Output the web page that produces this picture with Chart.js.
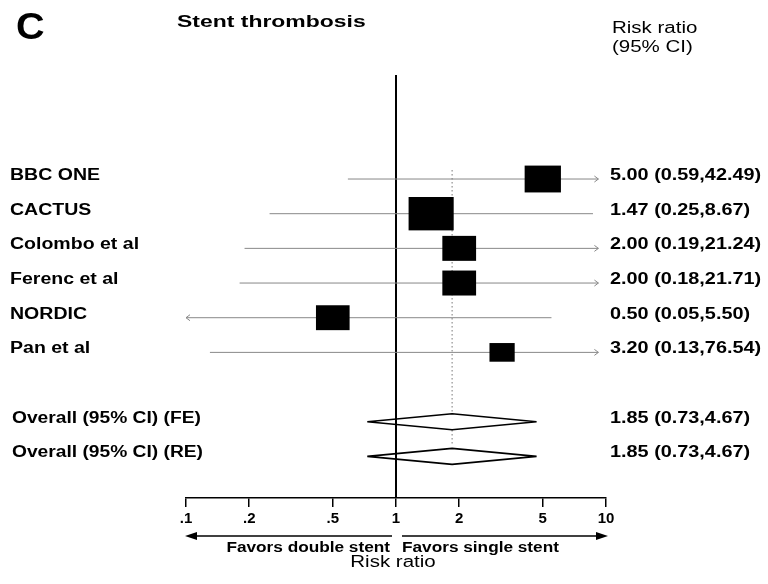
<!DOCTYPE html>
<html>
<head>
<meta charset="utf-8">
<title>Stent thrombosis forest plot</title>
<script src="https://cdn.jsdelivr.net/npm/chart.js@4.4.1/dist/chart.umd.min.js"></script>
<style>
  html, body { margin: 0; padding: 0; background: #fff; }
  #wrap { width: 768px; height: 584px; position: relative; }
</style>
</head>
<body>
<div id="wrap"><canvas id="forest"></canvas></div>
<script>
// Data -----------------------------------------------------------------
var studies = ["BBC ONE", "CACTUS", "Colombo et al", "Ferenc et al", "NORDIC", "Pan et al"];
var rr      = [5.00, 1.47, 2.00, 2.00, 0.50, 3.20];
var lo      = [0.59, 0.25, 0.19, 0.18, 0.05, 0.13];
var hi      = [42.49, 8.67, 21.24, 21.71, 5.50, 76.54];
var weights = [17.8, 27.5, 15.4, 15.4, 15.3, 8.6];   // % weight (box area)

var pooledLabels = ["Overall (95% CI) (FE)", "Overall (95% CI) (RE)"];
var pooledRR = [1.85, 1.85];
var pooledLo = [0.73, 0.73];
var pooledHi = [4.67, 4.67];

var tickValues = [0.1, 0.2, 0.5, 1, 2, 5, 10];
var tickLabels = [".1", ".2", ".5", "1", "2", "5", "10"];

(function () {
  var FONT = "'Liberation Sans', Arial, Helvetica, sans-serif";
  var CLIP_HI = 9.2, CLIP_LO = 0.1;

  // rows: studies on 1..n, pooled estimates after a blank row
  var studyRows = studies.map(function (s, i) { return i + 1; });
  var pooledRows = pooledLabels.map(function (s, i) { return studies.length + 2 + i; });

  function txt(ctx, s, x, y, font, align, sx) {
    ctx.save();
    ctx.font = font;
    ctx.fillStyle = "#000";
    ctx.textAlign = align || "left";
    ctx.textBaseline = "alphabetic";
    ctx.translate(x, y);
    ctx.scale(sx || 1, 1);
    ctx.fillText(s, 0, 0);
    ctx.restore();
  }
  function fmt(a, b, c) { return a.toFixed(2) + " (" + b.toFixed(2) + "," + c.toFixed(2) + ")"; }

  var forestPlugin = {
    id: "forest",
    afterDatasetsDraw: function (chart) {
      var ctx = chart.ctx, xs = chart.scales.x, ys = chart.scales.y, ca = chart.chartArea;
      var X = function (v) { return xs.getPixelForValue(v); };
      var Y = function (v) { return ys.getPixelForValue(v); };

      // null line at RR = 1
      ctx.save();
      ctx.strokeStyle = "#000"; ctx.lineWidth = 2;
      ctx.beginPath(); ctx.moveTo(X(1), ca.top); ctx.lineTo(X(1), ca.bottom); ctx.stroke();

      // dotted line at pooled estimate
      ctx.strokeStyle = "#333"; ctx.lineWidth = 1; ctx.setLineDash([1, 3]);
      ctx.beginPath();
      ctx.moveTo(X(pooledRR[0]), Y(studyRows[0] - 0.25));
      ctx.lineTo(X(pooledRR[0]), Y(pooledRows[pooledRows.length - 1] - 0.3));
      ctx.stroke();
      ctx.setLineDash([]);
      ctx.restore();

      // study CIs and boxes
      studies.forEach(function (name, i) {
        var y = Y(studyRows[i]);
        var a = Math.max(lo[i], CLIP_LO), b = Math.min(hi[i], CLIP_HI);
        var xa = X(a), xb = X(b);
        ctx.save();
        ctx.strokeStyle = "#888"; ctx.lineWidth = 1;
        ctx.beginPath(); ctx.moveTo(xa, y); ctx.lineTo(xb, y); ctx.stroke();
        if (hi[i] > CLIP_HI) {
          ctx.beginPath(); ctx.moveTo(xb - 4, y - 3); ctx.lineTo(xb, y); ctx.lineTo(xb - 4, y + 3); ctx.stroke();
        }
        if (lo[i] < CLIP_LO) {
          ctx.beginPath(); ctx.moveTo(xa + 4, y - 3); ctx.lineTo(xa, y); ctx.lineTo(xa + 4, y + 3); ctx.stroke();
        }
        var w = 8.6 * Math.sqrt(weights[i]), h = w * 0.74;
        ctx.fillStyle = "#000";
        ctx.fillRect(X(rr[i]) - w / 2, y - h / 2, w, h);
        ctx.restore();

        txt(ctx, name, 10, y + 1, "bold 16px " + FONT, "left", 1.22);
        txt(ctx, fmt(rr[i], lo[i], hi[i]), 610, y + 1, "bold 16px " + FONT, "left", 1.24);
      });

      // pooled diamonds
      pooledLabels.forEach(function (name, i) {
        var y = Y(pooledRows[i]);
        ctx.save();
        ctx.strokeStyle = "#000"; ctx.lineWidth = 1.6; ctx.fillStyle = "#fff";
        ctx.beginPath();
        ctx.moveTo(X(pooledLo[i]), y);
        ctx.lineTo(X(pooledRR[i]), y - 8);
        ctx.lineTo(X(pooledHi[i]), y);
        ctx.lineTo(X(pooledRR[i]), y + 8);
        ctx.closePath(); ctx.fill(); ctx.stroke();
        ctx.restore();
        // keep the null line over the diamond
        ctx.save();
        ctx.strokeStyle = "#000"; ctx.lineWidth = 2;
        ctx.beginPath(); ctx.moveTo(X(1), y - 9); ctx.lineTo(X(1), y + 9); ctx.stroke();
        ctx.restore();

        txt(ctx, name, 12, y + 1, "bold 16px " + FONT, "left", 1.2);
        txt(ctx, fmt(pooledRR[i], pooledLo[i], pooledHi[i]), 610, y + 1, "bold 16px " + FONT, "left", 1.24);
      });

      // headings
      txt(ctx, "C", 16, 39, "bold 36px " + FONT, "left", 1.1);
      txt(ctx, "Stent thrombosis", 177, 27, "bold 17px " + FONT, "left", 1.35);
      txt(ctx, "Risk ratio", 612, 33, "16px " + FONT, "left", 1.28);
      txt(ctx, "(95% CI)", 612, 52, "16px " + FONT, "left", 1.28);

      // direction arrows under the axis
      var ay = 536, x0 = X(tickValues[0]), x1 = X(1), x10 = X(tickValues[tickValues.length - 1]);
      ctx.save();
      ctx.strokeStyle = "#000"; ctx.fillStyle = "#000"; ctx.lineWidth = 1.5;
      ctx.beginPath(); ctx.moveTo(x0 + 6, ay); ctx.lineTo(x1 - 4, ay); ctx.stroke();
      ctx.beginPath(); ctx.moveTo(x0 - 1, ay); ctx.lineTo(x0 + 11, ay - 4); ctx.lineTo(x0 + 11, ay + 4); ctx.closePath(); ctx.fill();
      ctx.beginPath(); ctx.moveTo(x1 + 6, ay); ctx.lineTo(x10 - 4, ay); ctx.stroke();
      ctx.beginPath(); ctx.moveTo(x10 + 2, ay); ctx.lineTo(x10 - 10, ay - 4); ctx.lineTo(x10 - 10, ay + 4); ctx.closePath(); ctx.fill();
      ctx.restore();
      txt(ctx, "Favors double stent", x1 - 6, 552, "bold 14px " + FONT, "right", 1.23);
      txt(ctx, "Favors single stent", x1 + 6, 552, "bold 14px " + FONT, "left", 1.23);
      txt(ctx, "Risk ratio", x1 - 3, 567, "16px " + FONT, "center", 1.28);
    }
  };

  new Chart(document.getElementById("forest"), {
    type: "scatter",
    data: {
      datasets: [{
        data: rr.map(function (v, i) { return { x: v, y: studyRows[i] }; }),
        pointRadius: 0, pointHoverRadius: 0
      }]
    },
    plugins: [forestPlugin],
    options: {
      responsive: true,
      maintainAspectRatio: false,
      animation: false,
      events: [],
      layout: { padding: { left: 186, right: 162, top: 75, bottom: 53 } },
      plugins: { legend: { display: false }, tooltip: { enabled: false } },
      scales: {
        x: {
          type: "logarithmic", min: 0.1, max: 10,
          afterBuildTicks: function (s) { s.ticks = tickValues.map(function (v) { return { value: v }; }); },
          grid: { drawOnChartArea: false, drawTicks: true, tickLength: 9, color: "#000", lineWidth: 1.5 },
          border: { display: true, color: "#000", width: 1.5 },
          ticks: {
            autoSkip: false, maxRotation: 0, color: "#000", padding: 3,
            font: { family: FONT, size: 15, weight: "bold" },
            callback: function (v) { var k = tickValues.indexOf(v); return k >= 0 ? tickLabels[k] : ""; }
          }
        },
        y: { display: false, reverse: true, min: -2, max: 10.2 }
      }
    }
  });
})();
</script>
</body>
</html>
